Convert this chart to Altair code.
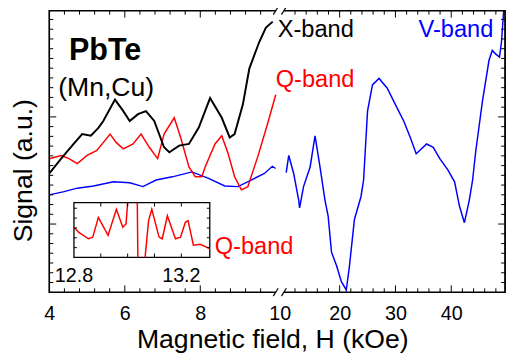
import altair as alt
import pandas as pd

FONT = "Liberation Sans"

# ---------------- data ----------------
# X-band (black), field in kOe, signal in arbitrary units
xb_H = [4.00, 4.34, 4.65, 4.87, 5.10, 5.30, 5.43, 5.74, 5.96, 6.13, 6.35, 6.56, 6.78, 7.04,
        7.18, 7.44, 7.70, 7.96, 8.26, 8.57, 8.78, 8.91, 9.13, 9.30, 9.56, 9.74, 9.92]
xb_S = [12.19, 13.84, 15.25, 16.23, 16.06, 16.87, 17.58, 19.77, 18.59, 17.58, 18.28, 18.59, 17.58, 14.88,
        14.37, 15.05, 15.22, 16.90, 19.93, 17.91, 15.89, 16.23, 19.29, 22.96, 25.66, 27.17, 27.78]

# Q-band (red)
qb_H = [4.00, 4.31, 4.52, 4.74, 5.00, 5.26, 5.61, 5.77, 5.96, 6.22, 6.43, 6.65, 6.87, 7.04, 7.31,
        7.48, 7.70, 7.87, 8.04, 8.13, 8.39, 8.57, 8.74, 8.91, 9.09, 9.26, 9.52, 9.78, 10.00]
qb_S = [13.71, 14.04, 13.71, 13.20, 14.04, 14.55, 16.23, 15.38, 14.72, 15.22, 16.23, 14.88, 13.71, 16.23, 17.91,
        15.89, 12.86, 11.85, 11.85, 12.86, 15.22, 16.06, 14.21, 11.85, 10.51, 10.84, 13.87, 17.24, 20.27]

# V-band (blue), low-field part (4-10 kOe)
vl_H = [4.00, 4.39, 4.74, 5.17, 5.70, 6.13, 6.48, 6.83, 7.26, 7.78, 8.22, 8.65, 9.00, 9.35, 9.70, 9.91, 10.00]
vl_S = [10.00, 10.33, 10.68, 10.91, 11.34, 11.24, 10.84, 11.52, 11.85, 12.35, 11.69, 10.91, 10.84, 11.52, 12.19, 12.93, 12.70]

# V-band (blue), high-field part (10-50 kOe)
vh_H = [10.42, 10.88, 11.76, 12.65, 12.82, 13.53, 14.71, 15.59, 16.48, 17.36, 17.94, 18.54, 19.42, 20.31,
        21.19, 21.77, 22.65, 23.83, 24.29, 25.00, 25.88, 27.06, 28.53, 30.29, 31.48, 32.66, 33.72, 35.59,
        36.77, 37.95, 39.42, 40.60, 41.48, 42.36, 43.25, 43.83, 44.41, 45.59, 46.77, 47.36, 47.94, 48.65,
        49.00, 49.42]
vh_S = [12.28, 14.04, 12.19, 9.49, 8.66, 10.84, 12.86, 16.06, 12.86, 9.49, 7.81, 4.11, 2.76, 1.08,
        0.23, 2.76, 7.47, 9.83, 11.52, 18.59, 21.28, 21.95, 20.94, 18.92, 17.58, 15.89, 14.21, 15.22,
        14.88, 13.71, 12.53, 11.34, 8.82, 7.14, 9.49, 11.52, 14.55, 19.60, 23.81, 24.82, 24.47, 24.14,
        25.66, 29.02]

# Inset: Q-band detail
in_H = [12.801, 12.817, 12.854, 12.870, 12.891, 12.927, 12.958, 12.982, 12.994, 13.000,
        13.036, 13.038,
        13.065, 13.078, 13.090, 13.117, 13.129, 13.148, 13.178, 13.197, 13.215, 13.225, 13.245, 13.270, 13.306]
in_S = [3.07, 2.57, 1.90, 2.07, 4.07, 2.24, 4.90, 3.07, 3.40, 5.57,
        5.57, 0.00,
        0.00, 3.74, 4.90, 2.07, 1.90, 4.24, 1.90, 2.07, 3.57, 3.74, 1.24, 1.34, 0.90]
in_seg = [0] * 10 + [1] * 2 + [2] * 13

# tick values
x_labels = [4, 6, 8, 10.005, 20, 30, 40]
x_major = [6, 8, 20, 30, 40]
x_minor = [4.4, 4.8, 5.2, 5.6, 6.4, 6.8, 7.2, 7.6, 8.4, 8.8, 9.2, 9.6,
           12, 14, 16, 18, 22, 24, 26, 28, 32, 34, 36, 38, 42, 44, 46, 48]
y_major = [7, 18]
y_minor = [v for v in range(1, 29) if v not in (7, 18)]
inset_xticks = [12.9, 13.0, 13.1, 13.2]
inset_xlabels = [12.8, 13.2]
inset_yticks = [1, 2, 3, 4, 5]

# ---------------- layout ----------------
W, H = 463, 286
XS = alt.Scale(domain=[4, 10, 10.01, 49.65], range=[0, 230, 238.3, 463], nice=False, zero=False)
YS = alt.Scale(domain=[0, 28.9], nice=False, zero=False)
IXR = [25, 163]
IYR = [250.7, 195]
IXS = alt.Scale(domain=[12.8, 13.306], range=IXR, nice=False, zero=False)
IYS = alt.Scale(domain=[0, 5.57], range=IYR, nice=False, zero=False)

x_axis = alt.Axis(values=x_labels, format=".0f", ticks=False, domain=False, grid=False,
                  labelFont=FONT, labelFontSize=20, labelColor="black", labelPadding=12,
                  labelFlush=False, labelOverlap=False,
                  title="Magnetic field, H (kOe)", titleFont=FONT, titleFontSize=27,
                  titleFontWeight="normal", titleColor="black", titleX=226.5, titleY=56,
                  titleBaseline="alphabetic", titleAlign="center")
y_axis = alt.Axis(labels=False, ticks=False, domain=False, grid=False,
                  title="Signal (a.u.)", titleFont=FONT, titleFontSize=27,
                  titleFontWeight="normal", titleColor="black", titleX=-26, titleY=162,
                  titleBaseline="middle", titleAlign="center", titleAngle=-90)


def X(field):
    return alt.X(field, type="quantitative", scale=XS, axis=x_axis)


def Y(field):
    return alt.Y(field, type="quantitative", scale=YS, axis=y_axis)


def line(Hs, Ss, color, width):
    df = pd.DataFrame({"H": Hs, "S": Ss})
    return alt.Chart(df).mark_line(color=color, strokeWidth=width, clip=True).encode(
        x=X("H"), y=Y("S"))


def xticks(vals, y0, y1):
    return alt.Chart(pd.DataFrame({"v": vals})).mark_rule(color="black", strokeWidth=1).encode(
        x=X("v"), y=alt.value(y0), y2=alt.value(y1))


def yticks(vals, x0, x1):
    return alt.Chart(pd.DataFrame({"v": vals})).mark_rule(color="black", strokeWidth=1).encode(
        y=Y("v"), x=alt.value(x0), x2=alt.value(x1))


frame_df = pd.DataFrame({"a": [4, 10.01], "b": [10, 49.65]})


def hframe(y):
    return alt.Chart(frame_df).mark_rule(color="black", strokeWidth=1.4).encode(
        x=X("a"), x2="b:Q", y=alt.value(y))


def vframe(x):
    return alt.Chart(frame_df).mark_rule(color="black", strokeWidth=1.4).encode(
        x=alt.value(x), y=alt.value(-0.7), y2=alt.value(H + 0.7))


def slash(y):
    return alt.Chart(pd.DataFrame({"h": [10, 10.01]})).mark_rule(
        color="black", strokeWidth=1.2, xOffset=-2.5, x2Offset=2.5, yOffset=4, y2Offset=-4
    ).encode(x=X("h"), x2="h:Q", y=alt.value(y), y2=alt.value(y))


def label(text, x, y, color, size, weight="normal"):
    return alt.Chart(pd.DataFrame({"t": [text]})).mark_text(
        font=FONT, fontSize=size, fontWeight=weight, color=color, align="left",
        baseline="alphabetic").encode(text="t:N", x=alt.value(x), y=alt.value(y))


main = alt.layer(
    line(vl_H, vl_S, "#0000ff", 1.4),
    line(qb_H, qb_S, "#ff0000", 1.5),
    line(xb_H, xb_S, "black", 2.0),
    line(vh_H, vh_S, "#0000ff", 1.5),
    hframe(0), hframe(H), vframe(0), vframe(W),
    slash(0), slash(H),
    xticks(x_minor, H, H - 4), xticks(x_major, H, H - 7),
    xticks(x_minor, 0, 4), xticks(x_major, 0, 7),
    yticks(y_minor, 0, 4), yticks(y_major, 0, 7),
    yticks(y_minor, W, W - 4), yticks(y_major, W, W - 7),
    label("PbTe", 20, 50, "black", 31, "bold"),
    label("(Mn,Cu)", 9, 87, "black", 27),
    label("X-band", 232, 27, "black", 24),
    label("Q-band", 230, 77, "#ff0000", 24),
    label("V-band", 375, 27, "#0000ff", 24),
    label("Q-band", 168, 247, "#ff0000", 24),
)

inset_box = alt.Chart(pd.DataFrame({"x0": [12.8], "x1": [13.306], "y0": [0.0], "y1": [5.57]})).mark_rect(
    fill="white", stroke="black", strokeWidth=1.3).encode(
    x=alt.X("x0:Q", scale=IXS, axis=None), x2="x1:Q",
    y=alt.Y("y0:Q", scale=IYS, axis=None), y2="y1:Q")

inset_line = alt.Chart(pd.DataFrame({"H": in_H, "S": in_S, "seg": in_seg})).mark_line(
    color="#ff0000", strokeWidth=1.5).encode(
    x=alt.X("H:Q", scale=IXS, axis=None), y=alt.Y("S:Q", scale=IYS, axis=None), detail="seg:N")

ixt = pd.DataFrame({"v": inset_xticks})
iyt = pd.DataFrame({"v": inset_yticks})
inset_bt = alt.Chart(ixt).mark_rule(color="black", strokeWidth=1).encode(
    x=alt.X("v:Q", scale=IXS, axis=None), y=alt.value(IYR[0]), y2=alt.value(IYR[0] - 4))
inset_tt = alt.Chart(ixt).mark_rule(color="black", strokeWidth=1).encode(
    x=alt.X("v:Q", scale=IXS, axis=None), y=alt.value(IYR[1]), y2=alt.value(IYR[1] + 4))
inset_lt = alt.Chart(iyt).mark_rule(color="black", strokeWidth=1).encode(
    y=alt.Y("v:Q", scale=IYS, axis=None), x=alt.value(IXR[0]), x2=alt.value(IXR[0] + 3))
inset_rt = alt.Chart(iyt).mark_rule(color="black", strokeWidth=1).encode(
    y=alt.Y("v:Q", scale=IYS, axis=None), x=alt.value(IXR[1]), x2=alt.value(IXR[1] - 3))
inset_lab = alt.Chart(pd.DataFrame({"v": inset_xlabels})).mark_text(
    font=FONT, fontSize=20, color="black", align="center", baseline="alphabetic").encode(
    x=alt.X("v:Q", scale=IXS, axis=None), y=alt.value(276), text=alt.Text("v:Q", format=".1f"))

inset = alt.layer(inset_box, inset_line, inset_bt, inset_tt, inset_lt, inset_rt, inset_lab)

chart = alt.layer(main, inset).resolve_scale(x="independent", y="independent").properties(
    width=W, height=H,
    autosize=alt.AutoSizeParams(type="none"),
    padding={"left": 42, "top": 0, "right": 5, "bottom": 60},
).configure_view(stroke=None)

chart.save("out.html", embed_options={"renderer": "svg", "actions": False})
